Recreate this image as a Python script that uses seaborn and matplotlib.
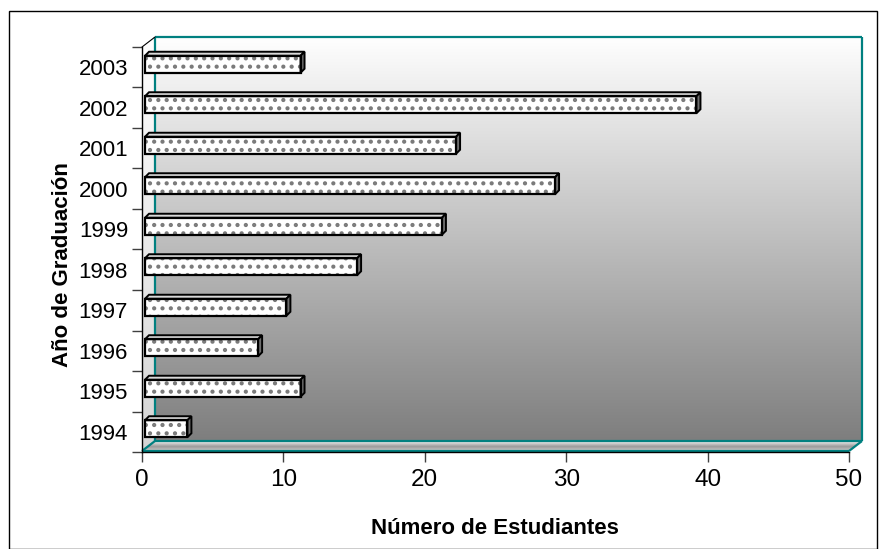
"""
Horizontal bar chart (Excel-like 3D look) of graduates per year.
"""

import numpy as np
import pandas as pd
import matplotlib
matplotlib.use("Agg")
import matplotlib.pyplot as plt
from matplotlib.patches import Polygon, Rectangle
from matplotlib.transforms import ScaledTranslation
from matplotlib.colors import LinearSegmentedColormap
import seaborn as sns

# data
years = ["1994", "1995", "1996", "1997", "1998", "1999", "2000", "2001", "2002", "2003"]
students = [3, 11, 8, 10, 15, 21, 29, 22, 39, 11]
x_ticks = [0, 10, 20, 30, 40, 50]

x_label = "Número de Estudiantes"
y_label = "Año de Graduación"

TEAL = "#008080"
W, H = 883, 549

sns.set_theme(style="white")
plt.rcParams["font.family"] = ["Liberation Sans", "DejaVu Sans"]
plt.rcParams["hatch.linewidth"] = 1.8
plt.rcParams["text.color"] = "black"
plt.rcParams["xtick.labelcolor"] = "black"
plt.rcParams["ytick.labelcolor"] = "black"

fig = plt.figure(figsize=(W / 100, H / 100), dpi=100)

# background axes in pixel coordinates (y downwards)
bg = fig.add_axes([0, 0, 1, 1], zorder=0)
bg.set_xlim(0, W)
bg.set_ylim(H, 0)
bg.axis("off")

# plot area of the front plane
left, right, top, bottom = 142, 849, 47, 452
dx, dy = 13, 11  # depth of the box
ax = fig.add_axes([left / W, 1 - bottom / H, (right - left) / W, (bottom - top) / H], zorder=1)
ax.set_facecolor("none")

# back wall gradient
wall_cmap = LinearSegmentedColormap.from_list("wall", ["#ffffff", "#7e7e7e"])
grad = np.linspace(0, 1, 256).reshape(-1, 1)
bg.imshow(grad, cmap=wall_cmap, aspect="auto",
          extent=(left + dx, right + dx, bottom - dy, top - dy), zorder=0)

# left side wall
side = Polygon([(left, top), (left + dx, top - dy + 1), (left + dx, bottom - dy), (left, bottom)],
               closed=True, facecolor="none", edgecolor="none")
bg.add_patch(side)
side_cmap = LinearSegmentedColormap.from_list("side", ["#ffffff", "#d4d4d4"])
im = bg.imshow(grad, cmap=side_cmap, aspect="auto",
               extent=(left, left + dx, bottom, top - dy), zorder=0)
im.set_clip_path(side)

# floor
floor = Polygon([(left, bottom), (left + dx, bottom - dy), (right + dx, bottom - dy), (right, bottom)],
                closed=True, facecolor="none", edgecolor="none")
bg.add_patch(floor)
floor_cmap = LinearSegmentedColormap.from_list("floor", ["#f4f4f4", "#9a9a9a", "#d8d8d8"])
im = bg.imshow(grad, cmap=floor_cmap, aspect="auto",
               extent=(left, right + dx, bottom, bottom - dy), zorder=0)
im.set_clip_path(floor)
bg.set_xlim(0, W)
bg.set_ylim(H, 0)

# teal edges of the box
kw = dict(color=TEAL, lw=1.6, zorder=2, solid_capstyle="butt")
bg.plot([left + dx, right + dx], [top - dy + 1, top - dy + 1], **kw)
bg.plot([left + dx, left + dx], [top - dy + 1, bottom - dy], **kw)
bg.plot([right + dx, right + dx], [top - dy + 1, bottom - dy], **kw)
bg.plot([left + dx, right + dx], [bottom - dy, bottom - dy], **kw)
bg.plot([left, left + dx], [bottom - 1, bottom - dy], **kw)
bg.plot([right, right + dx], [bottom - 1, bottom - dy], **kw)
bg.plot([left, right], [bottom - 1.5, bottom - 1.5], **kw)
bg.plot([left, left + dx], [top, top - dy + 1], color="black", lw=0.8, zorder=2)

# outer chart border
bg.add_patch(Rectangle((8.5, 10.5), 868, 538, fill=False, edgecolor="black", lw=1, zorder=3))

# bars
df = pd.DataFrame({"Año": years, "Estudiantes": students})
order = years[::-1]
sns.barplot(data=df, x="Estudiantes", y="Año", order=order, orient="h", ax=ax,
            color="white", saturation=1, width=0.42, errorbar=None,
            edgecolor="#7a7a7a", linewidth=0, hatch="..")

ax.set_xlim(0, 50)
ax.set_ylim(len(order) - 0.5, -0.5)

# 3D faces of the bars, derived from the bar patches
shift = ScaledTranslation(3 / 100, 3 / 100, fig.dpi_scale_trans)
to_px = ax.transData + bg.transData.inverted()
bx, by = 4, 4
for p in ax.patches:
    p.set_transform(ax.transData + shift)
    x0, y0 = p.get_x(), p.get_y()
    (X0, Y0), (X1, Y1) = to_px.transform([(x0, y0), (x0 + p.get_width(), y0 + p.get_height())])
    L, R = X0 + 3, X1 + 3
    T, B = min(Y0, Y1) - 3, max(Y0, Y1) - 3
    front = Polygon([(L, T), (R, T), (R, B), (L, B)], closed=True, fill=False,
                    edgecolor="black", lw=1.6, transform=bg.transData, zorder=5)
    topf = Polygon([(L, T), (L + bx, T - by), (R + bx, T - by), (R, T)], closed=True,
                   facecolor="#d9d9d9", edgecolor="black", lw=1.4, transform=bg.transData, zorder=4)
    sidef = Polygon([(R, T), (R + bx, T - by), (R + bx, B - by), (R, B)], closed=True,
                    facecolor="#6e6e6e", edgecolor="black", lw=1.4, transform=bg.transData, zorder=4)
    for art in (topf, sidef, front):
        ax.add_artist(art)

# axes styling
for s in ["top", "right"]:
    ax.spines[s].set_visible(False)
for s in ["left", "bottom"]:
    ax.spines[s].set_color("black")
    ax.spines[s].set_linewidth(1)

ax.set_xticks(x_ticks)
ax.set_xticklabels([str(t) for t in x_ticks], fontsize=17.5, color="black")
ax.tick_params(axis="x", direction="out", length=7, width=1, color="#404040", pad=5, bottom=True)
ax.set_yticks(range(len(order)))
ax.set_yticklabels(order, fontsize=16, color="black")
ax.set_yticks(np.arange(-0.5, len(order), 1), minor=True)
ax.tick_params(axis="y", which="major", length=0, pad=10)
ax.tick_params(axis="y", which="minor", direction="out", length=7, width=1, color="#404040", left=True)
ax.set_xlabel("")
ax.set_ylabel("")

bg.text(495, 528, x_label, ha="center", va="center", fontsize=16, fontweight="bold", color="black")
bg.text(62, 265, y_label, ha="center", va="center", fontsize=16, fontweight="bold",
        rotation=90, color="black")

fig.savefig("out.png", dpi=100)
